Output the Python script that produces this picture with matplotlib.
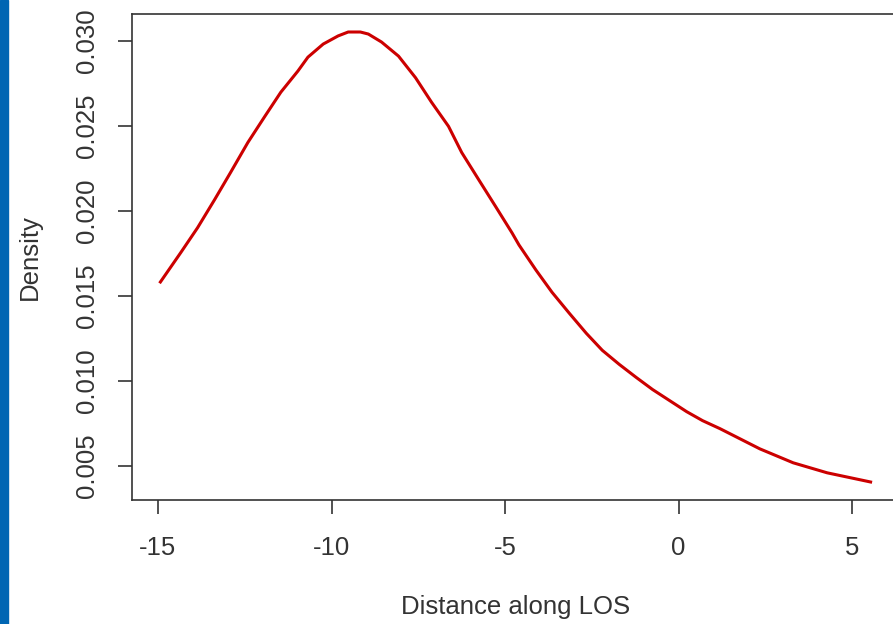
import matplotlib
matplotlib.use("Agg")
import matplotlib.pyplot as plt
from matplotlib.patches import Rectangle

# density curve
distance = [-14.93, -14.35, -13.86, -13.37, -12.91, -12.41, -11.92, -11.46,
            -10.97, -10.68, -10.24, -9.81, -9.52, -9.17, -8.94, -8.56,
            -8.07, -7.58, -7.12, -6.63, -6.25, -5.76, -5.27, -4.80,
            -4.60, -4.11, -3.65, -3.15, -2.66, -2.20, -1.71, -1.22,
            -0.75, -0.26, 0.23, 0.69, 1.19, 2.34, 3.30, 4.28, 5.53]
density = [0.01582, 0.01753, 0.01901, 0.02066, 0.02226, 0.02403, 0.02557, 0.02699,
           0.02823, 0.02905, 0.02982, 0.03030, 0.03053, 0.03053, 0.03041, 0.02994,
           0.02911, 0.02784, 0.02640, 0.02498, 0.02344, 0.02184, 0.02025, 0.01871,
           0.01800, 0.01652, 0.01522, 0.01398, 0.01280, 0.01180, 0.01097, 0.01020,
           0.00949, 0.00884, 0.00819, 0.00766, 0.00719, 0.00600, 0.00518, 0.00459,
           0.00405]

x_ticks = [-15, -10, -5, 0, 5]
y_ticks = [0.005, 0.010, 0.015, 0.020, 0.025, 0.030]

plt.rcParams['font.family'] = ['Liberation Sans', 'DejaVu Sans']

W, H = 893, 624
fig = plt.figure(figsize=(W / 100, H / 100), dpi=100)
fig.patches.append(Rectangle((0, 0), 8 / W, 1, transform=fig.transFigure,
                             color="#0066B3", zorder=0))

ax = fig.add_axes([132 / W, 1 - 500 / H, (899 - 132) / W, 486 / H])
ax.plot(distance, density, color="#CC0000", linewidth=2.2,
        solid_joinstyle='round')

# R style 4% padding
xr = max(distance) - min(distance)
yr = max(density) - min(density)
ax.set_xlim(min(distance) - 0.04 * xr, max(distance) + 0.04 * xr)
ax.set_ylim(min(density) - 0.04 * yr, max(density) + 0.04 * yr)

ax.set_xticks(x_ticks)
ax.set_xticklabels([str(t) for t in x_ticks])
ax.set_yticks(y_ticks)
ax.set_yticklabels(["%.3f" % t for t in y_ticks])

for s in ax.spines.values():
    s.set_color("#333333")
    s.set_linewidth(1.2)

ax.tick_params(axis='both', direction='out', length=10, width=1.2,
               color="#333333", labelsize=18.5, labelcolor="#333333")
ax.tick_params(axis='x', pad=16)
ax.tick_params(axis='y', pad=14, labelrotation=90)
for lab in ax.get_yticklabels():
    lab.set_va('center')

ax.set_xlabel("Distance along LOS", fontsize=18.5, color="#333333", va='center')
ax.xaxis.set_label_coords(0.5, -(607 - 500) / 486)
ax.set_ylabel("Density", fontsize=18.5, color="#333333", va='center')
ax.yaxis.set_label_coords(-(132 - 30) / 767, 0.5)

fig.savefig("out.png", dpi=100)
